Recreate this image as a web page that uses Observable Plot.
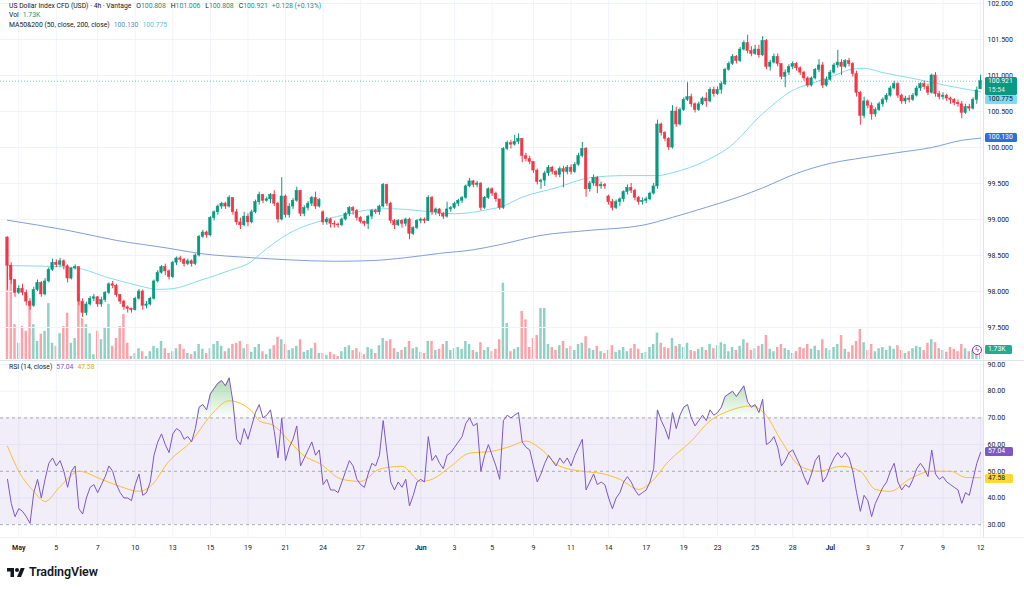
<!DOCTYPE html>
<html>
<head>
<meta charset="utf-8">
<script src="https://cdn.jsdelivr.net/npm/d3@7"></script>
<script src="https://cdn.jsdelivr.net/npm/@observablehq/plot@0.6"></script>
<style>
  html, body { margin: 0; padding: 0; background: #ffffff; }
  #chart { position: relative; width: 1024px; height: 589px; overflow: hidden;
           font-family: Roboto, "Liberation Sans", "DejaVu Sans", sans-serif; color: #131722; background: #fff; }
  .layer { position: absolute; left: 0; }
  .layer svg { display: block; }
  .hdr { position: absolute; left: 9px; font-size: 6.8px; line-height: 9px; white-space: nowrap; color: #131722; }
  .hdr span { margin-left: 4px; }
  .hdr span.k { margin-left: 5px; }
  .tag { position: absolute; font-size: 6.8px; line-height: 9px; color: #fff; border-radius: 1.5px;
         padding-left: 3px; box-sizing: border-box; white-space: nowrap; }
  .sep { position: absolute; background: #e0e3eb; }
  .brand { position: absolute; left: 7px; top: 564px; display: flex; align-items: center; }
  .brand span { font-size: 12.5px; font-weight: 600; margin-left: 4px; color: #131722; letter-spacing: -0.1px; }
</style>
</head>
<body>
<div id="chart">
  <div id="volLayer" class="layer" style="top:0"></div>
  <div id="priceLayer" class="layer" style="top:0"></div>
  <div id="rsiLayer" class="layer" style="top:360px"></div>
</div>
<script>
// ---- US Dollar Index CFD, 4h bars (Vantage) ----
const firstOpen = 98.75;
const closes = [
  98.36, 98.16, 97.98, 98.04, 97.98, 97.86, 97.80, 98.02, 98.12, 97.96,
  98.14, 98.30, 98.40, 98.37, 98.42, 98.35, 98.18, 98.32, 98.34, 97.86,
  97.70, 97.82, 97.90, 97.92, 97.82, 97.88, 97.98, 98.10, 98.08, 97.95,
  97.86, 97.78, 97.76, 97.74, 97.90, 98.00, 97.80, 97.82, 97.90, 98.14,
  98.26, 98.34, 98.28, 98.20, 98.40, 98.46, 98.44, 98.38, 98.42, 98.38,
  98.50, 98.76, 98.82, 98.78, 99.02, 99.10, 99.18, 99.22, 99.18, 99.30,
  99.10, 98.96, 98.92, 99.04, 98.96, 99.10, 99.24, 99.34, 99.26, 99.28,
  99.34, 99.22, 99.00, 99.32, 99.06, 99.18, 99.26, 99.40, 99.08, 99.16,
  99.22, 99.30, 99.18, 99.27, 98.96, 99.00, 98.94, 98.93, 98.92, 99.00,
  99.08, 99.16, 99.12, 99.02, 98.97, 98.94, 99.04, 99.12, 99.10, 99.18,
  99.48, 99.22, 98.98, 98.92, 98.98, 98.94, 99.00, 98.80, 98.88, 98.98,
  99.00, 98.98, 99.30, 99.10, 99.14, 99.08, 99.04, 99.14, 99.16, 99.22,
  99.26, 99.30, 99.46, 99.53, 99.48, 99.50, 99.16, 99.30, 99.42, 99.36,
  99.28, 99.16, 99.98, 100.06, 100.04, 100.08, 100.12, 99.88, 99.84, 99.80,
  99.68, 99.52, 99.54, 99.64, 99.72, 99.66, 99.62, 99.70, 99.66, 99.72,
  99.66, 99.76, 99.88, 99.98, 99.42, 99.50, 99.58, 99.46, 99.48, 99.46,
  99.24, 99.16, 99.24, 99.28, 99.38, 99.44, 99.40, 99.30, 99.24, 99.26,
  99.28, 99.36, 99.46, 100.32, 100.20, 100.12, 100.00, 100.50, 100.32, 100.52,
  100.66, 100.70, 100.60, 100.52, 100.60, 100.68, 100.64, 100.80, 100.74, 100.80,
  100.88, 101.08, 101.16, 101.26, 101.20, 101.36, 101.45, 101.34, 101.30, 101.36,
  101.28, 101.48, 101.12, 101.18, 101.26, 101.16, 100.98, 101.04, 101.12, 101.16,
  101.10, 101.04, 100.96, 100.86, 100.96, 101.08, 101.14, 100.86, 100.94, 101.04,
  101.14, 101.18, 101.12, 101.20, 101.16, 101.02, 100.76, 100.44, 100.64, 100.58,
  100.46, 100.52, 100.60, 100.66, 100.72, 100.82, 100.88, 100.72, 100.64, 100.68,
  100.66, 100.72, 100.82, 100.88, 100.84, 100.76, 101.00, 100.74, 100.70, 100.72,
  100.68, 100.66, 100.62, 100.60, 100.48, 100.56, 100.54, 100.66, 100.793, 100.921
];
const highs = [
  98.76, 98.40, 98.16, 98.08, 98.10, 98.02, 97.90, 98.06, 98.16, 98.14,
  98.18, 98.33, 98.45, 98.44, 98.46, 98.44, 98.37, 98.33, 98.37, 98.34,
  97.90, 97.85, 97.93, 97.96, 97.93, 97.92, 98.00, 98.12, 98.14, 98.10,
  97.96, 97.88, 97.80, 97.77, 97.92, 98.03, 98.02, 97.86, 97.92, 98.16,
  98.29, 98.36, 98.38, 98.30, 98.42, 98.48, 98.49, 98.46, 98.45, 98.44,
  98.52, 98.78, 98.85, 98.84, 99.04, 99.12, 99.20, 99.24, 99.24, 99.33,
  99.30, 99.14, 99.02, 99.10, 99.08, 99.13, 99.27, 99.38, 99.35, 99.31,
  99.36, 99.40, 99.24, 99.58, 99.34, 99.22, 99.29, 99.45, 99.40, 99.19,
  99.25, 99.32, 99.38, 99.29, 99.12, 99.03, 99.02, 98.98, 98.95, 99.02,
  99.10, 99.18, 99.18, 99.14, 99.04, 98.98, 99.06, 99.14, 99.14, 99.20,
  99.50, 99.49, 99.24, 99.00, 99.00, 99.00, 99.02, 99.02, 98.90, 99.00,
  99.02, 99.02, 99.33, 99.32, 99.16, 99.15, 99.10, 99.24, 99.18, 99.24,
  99.28, 99.32, 99.48, 99.57, 99.54, 99.53, 99.51, 99.32, 99.44, 99.44,
  99.38, 99.28, 100.00, 100.09, 100.10, 100.17, 100.19, 100.12, 99.92, 99.88,
  99.80, 99.70, 99.56, 99.67, 99.75, 99.74, 99.68, 99.73, 99.74, 99.75,
  99.76, 99.79, 99.92, 100.07, 100.00, 99.53, 99.62, 99.60, 99.52, 99.50,
  99.34, 99.28, 99.27, 99.30, 99.40, 99.48, 99.50, 99.42, 99.32, 99.30,
  99.31, 99.38, 99.50, 100.38, 100.34, 100.22, 100.14, 100.58, 100.56, 100.55,
  100.69, 100.90, 100.74, 100.62, 100.63, 100.70, 100.76, 100.83, 100.84, 100.84,
  100.91, 101.10, 101.19, 101.29, 101.28, 101.39, 101.48, 101.56, 101.40, 101.42,
  101.42, 101.54, 101.50, 101.21, 101.30, 101.30, 101.16, 101.08, 101.15, 101.19,
  101.18, 101.12, 101.06, 100.98, 100.98, 101.10, 101.22, 101.18, 100.98, 101.07,
  101.17, 101.35, 101.22, 101.22, 101.24, 101.18, 101.06, 100.78, 100.70, 100.66,
  100.62, 100.55, 100.63, 100.69, 100.75, 100.85, 100.92, 100.90, 100.74, 100.71,
  100.72, 100.75, 100.85, 100.90, 100.92, 100.88, 101.02, 101.04, 100.78, 100.76,
  100.74, 100.70, 100.68, 100.66, 100.64, 100.60, 100.60, 100.69, 100.84, 101.006
];
const lows = [
  98.02, 98.10, 97.92, 97.96, 97.94, 97.80, 97.74, 97.78, 98.00, 97.92,
  97.94, 98.12, 98.28, 98.33, 98.34, 98.30, 98.12, 98.16, 98.30, 97.80,
  97.64, 97.66, 97.80, 97.86, 97.78, 97.78, 97.85, 97.96, 98.04, 97.92,
  97.82, 97.74, 97.70, 97.70, 97.73, 97.88, 97.74, 97.76, 97.80, 97.88,
  98.12, 98.24, 98.22, 98.16, 98.18, 98.36, 98.40, 98.34, 98.36, 98.34,
  98.36, 98.48, 98.74, 98.74, 98.76, 98.98, 99.06, 99.14, 99.14, 99.16,
  99.06, 98.92, 98.86, 98.90, 98.90, 98.94, 99.08, 99.20, 99.22, 99.24,
  99.22, 99.18, 98.95, 98.98, 99.02, 99.02, 99.14, 99.24, 99.04, 99.04,
  99.12, 99.18, 99.14, 99.16, 98.92, 98.92, 98.88, 98.88, 98.88, 98.90,
  98.98, 99.04, 99.06, 98.98, 98.94, 98.90, 98.86, 99.00, 99.07, 99.06,
  99.16, 99.18, 98.94, 98.86, 98.90, 98.88, 98.90, 98.72, 98.78, 98.86,
  98.94, 98.94, 98.97, 99.06, 99.06, 99.04, 99.00, 99.02, 99.10, 99.14,
  99.18, 99.22, 99.28, 99.44, 99.44, 99.44, 99.12, 99.14, 99.28, 99.32,
  99.24, 99.13, 99.14, 99.96, 99.98, 100.02, 100.04, 99.79, 99.80, 99.76,
  99.64, 99.48, 99.42, 99.46, 99.60, 99.62, 99.58, 99.58, 99.44, 99.62,
  99.62, 99.64, 99.74, 99.86, 99.31, 99.38, 99.46, 99.36, 99.42, 99.42,
  99.20, 99.12, 99.14, 99.18, 99.24, 99.34, 99.36, 99.26, 99.20, 99.20,
  99.22, 99.26, 99.34, 99.42, 100.16, 100.08, 99.96, 99.98, 100.28, 100.30,
  100.50, 100.64, 100.56, 100.48, 100.50, 100.58, 100.56, 100.62, 100.70, 100.72,
  100.74, 100.86, 101.06, 101.14, 101.16, 101.18, 101.34, 101.30, 101.26, 101.28,
  101.24, 101.26, 101.08, 101.06, 101.16, 101.12, 100.94, 100.83, 101.00, 101.08,
  101.06, 101.00, 100.92, 100.83, 100.84, 100.94, 101.04, 100.82, 100.84, 100.92,
  101.02, 101.10, 101.00, 101.10, 101.12, 100.98, 100.70, 100.31, 100.40, 100.54,
  100.38, 100.42, 100.50, 100.56, 100.62, 100.70, 100.80, 100.68, 100.60, 100.60,
  100.62, 100.64, 100.70, 100.78, 100.80, 100.72, 100.74, 100.70, 100.66, 100.66,
  100.64, 100.60, 100.58, 100.56, 100.40, 100.46, 100.50, 100.52, 100.60, 100.808
];
// bars that opened away from the previous close
const gapBars = [84, 160, 259];
const gapOpenValues = [99.10, 99.32, 100.808];

// volume, thousands
const volumes = [
  15.8, 15.5, 5.8, 2.7, 5.5, 4.7, 9.2, 5.8, 3.0, 4.2,
  4.7, 9.3, 2.7, 2.2, 4.3, 5.5, 7.7, 2.7, 3.5, 10.8,
  6.8, 5.8, 4.3, 0.8, 4.7, 3.3, 5.2, 9.2, 2.2, 3.5,
  5.5, 7.5, 2.7, 0.5, 1.0, 1.8, 1.3, 0.5, 1.3, 2.2,
  1.8, 3.0, 1.8, 1.0, 1.3, 1.8, 2.5, 1.7, 1.0, 0.8,
  1.3, 2.5, 1.7, 1.0, 1.8, 2.5, 3.0, 2.2, 1.3, 1.8,
  2.5, 2.7, 3.0, 1.8, 2.5, 1.2, 2.0, 2.5, 1.3, 0.8,
  1.7, 2.3, 3.7, 3.3, 2.5, 1.5, 1.8, 2.2, 3.3, 1.2,
  1.5, 1.8, 2.7, 1.0, 1.0, 0.7, 1.2, 0.8, 0.5, 1.3,
  2.0, 2.3, 1.5, 1.8, 1.2, 0.8, 2.0, 1.7, 1.0, 2.3,
  3.5, 3.0, 3.3, 1.8, 1.2, 1.5, 2.0, 3.0, 1.8, 2.0,
  1.2, 1.0, 3.0, 3.0, 1.5, 1.7, 2.5, 3.0, 1.5, 1.8,
  2.0, 1.7, 3.0, 2.5, 1.5, 1.2, 2.8, 1.5, 2.0, 1.3,
  1.7, 3.3, 12.7, 6.0, 1.3, 1.7, 2.0, 8.0, 6.6, 2.0,
  3.5, 4.0, 8.5, 8.5, 2.5, 2.0, 1.5, 2.3, 3.0, 1.8,
  2.2, 1.5, 2.5, 2.7, 3.8, 1.8, 1.5, 2.2, 1.3, 1.0,
  1.5, 2.3, 1.2, 1.5, 2.0, 1.3, 1.8, 2.5, 1.7, 1.0,
  1.2, 2.0, 2.5, 4.4, 2.7, 2.0, 1.8, 3.5, 2.2, 2.5,
  2.0, 2.7, 1.5, 1.3, 1.7, 2.0, 1.5, 2.5, 1.8, 2.3,
  2.8, 2.5, 1.3, 2.0, 1.5, 2.2, 3.3, 2.7, 1.5, 1.8,
  2.2, 2.5, 4.0, 1.7, 1.3, 2.0, 2.5, 1.8, 1.5, 1.0,
  1.3, 2.0, 1.8, 2.5, 1.7, 2.2, 1.5, 3.3, 1.8, 1.5,
  2.0, 2.5, 4.0, 1.7, 1.2, 2.3, 3.0, 5.0, 2.8, 1.5,
  2.5, 1.3, 1.8, 2.0, 1.5, 2.2, 1.7, 2.3, 1.5, 1.0,
  1.3, 1.8, 2.2, 2.0, 1.5, 2.7, 3.3, 2.8, 1.8, 1.5,
  1.2, 2.0, 1.7, 1.3, 2.5, 1.8, 1.3, 1.5, 2.0, 1.73
];

// RSI (14, close) per bar
const rsi = [
  47, 38, 33, 36, 35, 33, 30.5, 42, 47, 40,
  47, 53, 55, 52, 54, 50, 44, 50, 52, 36,
  34, 40, 44, 45, 42, 45, 48, 52, 50, 45,
  42, 40, 40, 39, 45, 49, 41, 42, 46, 56,
  61, 64, 60, 57, 64, 66, 65, 62, 63, 61,
  66, 74, 75, 73, 79, 81, 83, 84, 82, 85,
  76, 62, 60, 66, 62, 67, 72, 75, 70, 71,
  73, 65, 55, 70, 54, 59, 62, 67, 52, 55,
  58, 61, 56, 58, 45, 47, 43, 43, 42, 46,
  50, 54, 52, 47, 45, 44, 49, 53, 52, 56,
  69, 57, 46, 43, 46, 44, 47, 37, 41, 46,
  47, 46, 63, 54, 56, 53, 51, 56, 57, 59,
  61, 63, 68, 70, 67, 68, 50, 56, 60, 56,
  52, 47, 69, 71, 70, 71, 72, 61, 59, 58,
  52, 46, 49, 53, 56, 54, 52, 55, 53, 55,
  52, 56, 59, 62, 43, 46, 49, 45, 46, 45,
  40, 36, 40, 42, 46, 48, 46, 43, 41, 42,
  43, 46, 51, 73, 69, 66, 62, 72, 66, 71,
  74, 75, 70, 67, 69, 71, 69, 73, 71, 72,
  74, 78, 79, 80, 78, 80, 82, 76, 74, 75,
  72, 77, 60, 61, 63, 59, 52, 54, 57, 58,
  55, 52, 48, 45, 49, 54, 56, 46, 48, 52,
  55, 57, 55, 57, 55, 50, 42, 35, 41, 39,
  33, 38, 41, 44, 46, 50, 53, 46, 43, 45,
  44, 47, 51, 53, 51, 48, 58, 49, 47, 48,
  46, 45, 44, 43, 38, 42, 41, 47, 53, 57.04
];
// RSI-based moving average, sampled along the bars
const rsiMaBars = [0, 3, 7, 10, 14, 19, 25, 30, 35, 38, 43, 49, 54, 59, 65, 67, 71, 75, 79, 83,
  89, 94, 99, 105, 110, 113, 118, 123, 129, 134, 138, 142, 147, 153, 158, 163, 168, 171, 176, 182,
  187, 192, 198, 202, 206, 211, 216, 222, 227, 231, 235, 240, 246, 251, 255, 259];
const rsiMaValues = [59.4, 50, 42.5, 38.7, 44.3, 50, 47, 44.3, 42.5, 44.3, 53.8, 61.3, 70.8, 76.4, 72.6, 68.9, 67, 61.3, 55.7, 53,
  47, 46.2, 50.8, 51.9, 46.2, 47, 51.9, 56.8, 57.5, 59.4, 61.3, 58.3, 51.9, 50, 49.2, 47, 43.2, 45.5, 53.8, 61.3,
  68.9, 72.6, 74.5, 70.8, 61.3, 51.9, 50, 51.9, 50, 43.2, 42.5, 47, 50, 50, 47.7, 47.58];

// MA50 / MA200 on close, sampled along the bars
const ma50Bars = [0, 11, 18, 27, 35, 40, 44, 51, 59, 65, 67, 75, 84, 91, 97, 102, 106, 112, 119, 124,
  129, 131, 137, 146, 155, 164, 173, 177, 186, 192, 201, 210, 214, 222, 224, 228, 233, 241, 250, 259];
const ma50Values = [98.36, 98.35, 98.33, 98.19, 98.08, 98.03, 98.04, 98.15, 98.29, 98.42, 98.51, 98.81, 98.99, 99.08, 99.14, 99.15, 99.14, 99.11, 99.08, 99.10,
  99.15, 99.17, 99.31, 99.44, 99.58, 99.61, 99.61, 99.65, 99.82, 100.0, 100.47, 100.82, 100.89, 101.04, 101.08, 101.10, 101.04, 100.96, 100.86, 100.775];
const ma200Bars = [0, 16, 29, 43, 51, 65, 75, 87, 97, 106, 115, 124, 131, 142, 155, 169, 177, 186, 195, 201, 210, 219, 228, 237, 246, 254, 259];
const ma200Values = [98.99, 98.85, 98.71, 98.60, 98.53, 98.47, 98.44, 98.42, 98.43, 98.47, 98.53, 98.58, 98.65, 98.78, 98.85, 98.92, 99.03, 99.17, 99.32, 99.44, 99.64, 99.78, 99.86, 99.93, 100.0, 100.10, 100.13];

// time axis
const dateTickBars = [3, 13, 24, 34, 44, 54, 64, 74, 84, 94, 110, 119, 129, 140, 150, 160, 170, 180, 189, 199, 209, 219, 229, 238, 249, 259];
const dateTickLabels = ["May", "5", "7", "10", "13", "15", "19", "21", "24", "27", "Jun", "3", "5", "9", "11", "14", "17", "19", "23", "25", "28", "Jul", "3", "7", "9", "12"];
const monthLabels = ["May", "Jun", "Jul"];
const priceTicks = [97.5, 98, 98.5, 99, 99.5, 100, 100.5, 101, 101.5, 102];
const rsiTicks = [30, 40, 50, 60, 70, 80, 90];
const rsiGridTicks = [40, 60, 80, 90];
const rsiLevels = [70, 50, 30];
const countdown = "15:54";

// ---- styling ----
const UP = "#089981", DOWN = "#f23645";
const VOL_UP = "rgba(8,153,129,0.45)", VOL_DOWN = "rgba(242,54,69,0.45)";
const GRID = "#f0f3fa";
const MA50_COLOR = "#86dcee", MA200_COLOR = "#7f9fd8";
const RSI_COLOR = "#7e57c2", RSI_MA_COLOR = "#fbc02d";
const FONT = 'Roboto, "Liberation Sans", "DejaVu Sans", sans-serif';

const N = closes.length;
const gapOpen = new Map(gapBars.map((b, k) => [b, gapOpenValues[k]]));
const bars = closes.map((c, i) => {
  const open = i === 0 ? firstOpen : (gapOpen.has(i) ? gapOpen.get(i) : closes[i - 1]);
  const up = c >= open;
  return {
    i, open, close: c,
    high: Math.max(highs[i], open, c),
    low: Math.min(lows[i], open, c),
    vol: volumes[i], up,
    color: up ? UP : DOWN,
    volColor: up ? VOL_UP : VOL_DOWN
  };
});
const rsiRows = rsi.map((r, i) => ({i, r}));
const rsiMa = rsiMaBars.map((b, k) => ({i: b, v: rsiMaValues[k]}));
const ma50 = ma50Bars.map((b, k) => ({i: b, v: ma50Values[k]}));
const ma200 = ma200Bars.map((b, k) => ({i: b, v: ma200Values[k]}));
const last = bars[N - 1];

const W = 1024, MR = 41;
const xDomain = [-1.86, N - 0.22];
const HALF = 0.33;
const labelOf = new Map(dateTickBars.map((b, k) => [b, dateTickLabels[k]]));
const monthTicks = dateTickBars.filter(b => monthLabels.includes(labelOf.get(b)));
const dayTicks = dateTickBars.filter(b => !monthLabels.includes(labelOf.get(b)));

// volume pane (drawn underneath the candles)
const volPlot = Plot.plot({
  width: W, height: 360, marginLeft: 0, marginRight: MR, marginTop: 0, marginBottom: 1,
  style: {background: "transparent", fontFamily: FONT},
  x: {type: "linear", domain: xDomain, axis: null},
  y: {domain: [0, 59.8], axis: null},
  color: {type: "identity"},
  marks: [
    Plot.rect(bars, {x1: d => d.i - HALF, x2: d => d.i + HALF, y1: 0, y2: "vol", fill: "volColor"})
  ]
});
document.getElementById("volLayer").appendChild(volPlot);

// price pane
const pricePlot = Plot.plot({
  width: W, height: 360, marginLeft: 0, marginRight: MR, marginTop: 0, marginBottom: 0,
  style: {background: "transparent", fontFamily: FONT, fontSize: "7px", color: "#131722", overflow: "visible"},
  x: {type: "linear", domain: xDomain, axis: null},
  y: {domain: [97.042, 102.042]},
  color: {type: "identity"},
  marks: [
    Plot.ruleY(priceTicks, {stroke: GRID}),
    Plot.ruleX(dateTickBars, {stroke: GRID}),
    Plot.axisY(priceTicks, {anchor: "right", tickSize: 0, tickPadding: 4, tickFormat: d3.format(".3f"), fill: "#131722", label: null}),
    Plot.line(ma200, {x: "i", y: "v", stroke: MA200_COLOR, strokeWidth: 1, curve: "monotone-x"}),
    Plot.line(ma50, {x: "i", y: "v", stroke: MA50_COLOR, strokeWidth: 1, curve: "monotone-x"}),
    Plot.ruleY([last.close], {stroke: UP, strokeOpacity: 0.55, strokeDasharray: "1,2"}),
    Plot.ruleX(bars, {x: "i", y1: "low", y2: "high", stroke: "color", strokeWidth: 1}),
    Plot.rect(bars, {x1: d => d.i - HALF, x2: d => d.i + HALF, y1: "open", y2: "close", fill: "color", stroke: "color", strokeWidth: 0.5})
  ]
});
document.getElementById("priceLayer").appendChild(pricePlot);

// RSI pane
const rsiPlot = Plot.plot({
  width: W, height: 200, marginLeft: 0, marginRight: MR, marginTop: 0, marginBottom: 23,
  style: {background: "transparent", fontFamily: FONT, fontSize: "7px", color: "#131722", overflow: "visible"},
  x: {type: "linear", domain: xDomain},
  y: {domain: [25.2, 91.5]},
  marks: [
    Plot.ruleX(dateTickBars, {stroke: GRID}),
    Plot.ruleY(rsiGridTicks, {stroke: GRID}),
    Plot.rect([{lo: 30, hi: 70}], {x1: xDomain[0], x2: xDomain[1], y1: "lo", y2: "hi", fill: RSI_COLOR, fillOpacity: 0.1}),
    Plot.ruleY(rsiLevels, {stroke: "#9598a1", strokeOpacity: 0.8, strokeDasharray: "3,3"}),
    Plot.areaY(rsiRows, {x: "i", y1: 70, y2: d => Math.max(d.r, 70), fill: "url(#rsiOB)"}),
    Plot.areaY(rsiRows, {x: "i", y1: 30, y2: d => Math.min(d.r, 30), fill: "url(#rsiOS)"}),
    Plot.line(rsiMa, {x: "i", y: "v", stroke: RSI_MA_COLOR, strokeWidth: 1, curve: "monotone-x"}),
    Plot.line(rsiRows, {x: "i", y: "r", stroke: RSI_COLOR, strokeWidth: 1}),
    Plot.axisY(rsiTicks, {anchor: "right", tickSize: 0, tickPadding: 4, tickFormat: d3.format(".2f"), fill: "#131722", label: null}),
    Plot.axisX(dayTicks, {anchor: "bottom", tickSize: 0, tickPadding: 8, tickFormat: d => labelOf.get(d), fill: "#131722", label: null}),
    Plot.axisX(monthTicks, {anchor: "bottom", tickSize: 0, tickPadding: 8, tickFormat: d => labelOf.get(d), fill: "#131722", fontWeight: 600, label: null})
  ]
});
{
  const yR = rsiPlot.scale("y");
  const ns = "http://www.w3.org/2000/svg";
  const defs = document.createElementNS(ns, "defs");
  defs.innerHTML =
    `<linearGradient id="rsiOB" gradientUnits="userSpaceOnUse" x1="0" x2="0" y1="${yR.apply(88)}" y2="${yR.apply(70)}">` +
    `<stop offset="0" stop-color="#4caf50" stop-opacity="0.55"/><stop offset="1" stop-color="#4caf50" stop-opacity="0.02"/></linearGradient>` +
    `<linearGradient id="rsiOS" gradientUnits="userSpaceOnUse" x1="0" x2="0" y1="${yR.apply(30)}" y2="${yR.apply(12)}">` +
    `<stop offset="0" stop-color="#f23645" stop-opacity="0.02"/><stop offset="1" stop-color="#f23645" stop-opacity="0.55"/></linearGradient>`;
  rsiPlot.insertBefore(defs, rsiPlot.firstChild);
}
document.getElementById("rsiLayer").appendChild(rsiPlot);

// ---- panes, header texts and value tags ----
const chart = document.getElementById("chart");
function el(cls, style, html) {
  const d = document.createElement("div");
  d.className = cls;
  Object.assign(d.style, style);
  if (html != null) d.innerHTML = html;
  chart.appendChild(d);
  return d;
}
el("sep", {left: "0px", top: "360px", width: W + "px", height: "1px"});
el("sep", {left: (W - MR) + "px", top: "0px", width: "1px", height: "537px"});
el("sep", {left: "0px", top: "537px", width: W + "px", height: "1px", background: "#eef0f4"});

const fmt3 = d3.format(".3f"), fmt2 = d3.format(".2f");
const prevClose = closes[N - 2];
const change = last.close - prevClose;
const pct = change / prevClose * 100;
const g = s => `<span style="color:${UP};margin-left:0">${s}</span>`;
el("hdr", {top: "2px"},
  `US Dollar Index CFD (USD) · 4h · Vantage` +
  `<span class="k">O</span>${g(fmt3(last.open))}` +
  `<span class="k">H</span>${g(fmt3(last.high))}` +
  `<span class="k">L</span>${g(fmt3(last.low))}` +
  `<span class="k">C</span>${g(fmt3(last.close))}` +
  `<span style="color:${UP}">${change >= 0 ? "+" : ""}${fmt3(change)} (${change >= 0 ? "+" : ""}${fmt2(pct)}%)</span>`);
el("hdr", {top: "11px"}, `Vol<span style="color:${UP}">${fmt2(last.vol)}K</span>`);
el("hdr", {top: "21px"},
  `MA50&amp;200 (50, close, 200, close)<span style="color:#5b86d8">${fmt3(ma200Values[ma200Values.length - 1])}</span>` +
  `<span style="color:#4fc8e0">${fmt3(ma50Values[ma50Values.length - 1])}</span>`);
el("hdr", {top: "363px"},
  `RSI (14, close)<span style="color:${RSI_COLOR}">${fmt2(rsi[N - 1])}</span>` +
  `<span style="color:#e6a800">${fmt2(rsiMaValues[rsiMaValues.length - 1])}</span>`);

const yP = pricePlot.scale("y"), yRs = rsiPlot.scale("y");
const TAG_LEFT = W - MR + 2, TAG_W = 32;
// last-price tag: price on top, bar countdown underneath
const priceTop = yP.apply(last.close) - 4;
el("tag", {left: TAG_LEFT + "px", width: TAG_W + "px", top: priceTop + "px", height: "18px", background: UP},
  `<div>${fmt3(last.close)}</div><div style="opacity:0.85">${countdown}</div>`);
const ma50Last = ma50Values[ma50Values.length - 1];
el("tag", {left: TAG_LEFT + "px", width: TAG_W + "px", top: Math.max(yP.apply(ma50Last) - 4.5, priceTop + 18) + "px", height: "9px", background: "#7fdbef", color: "#131722"},
  fmt3(ma50Last));
const ma200Last = ma200Values[ma200Values.length - 1];
el("tag", {left: TAG_LEFT + "px", width: TAG_W + "px", top: (yP.apply(ma200Last) - 4.5) + "px", height: "9px", background: "#2f6fdc"},
  fmt3(ma200Last));
el("tag", {left: TAG_LEFT + "px", width: "27px", top: "345px", height: "9px", background: "#22ab94"},
  `${fmt2(last.vol)}K`);
el("tag", {left: (TAG_LEFT - 13) + "px", width: "10px", top: "344.5px", height: "10px", background: "#fff", border: "1px solid #9c27b0", borderRadius: "50%", padding: "0", color: "#9c27b0", fontSize: "7px", lineHeight: "8px", textAlign: "center"},
  "ϟ");
el("tag", {left: TAG_LEFT + "px", width: "28px", top: (360 + yRs.apply(rsi[N - 1]) - 4.5) + "px", height: "9px", background: RSI_COLOR},
  fmt2(rsi[N - 1]));
const rsiMaLast = rsiMaValues[rsiMaValues.length - 1];
el("tag", {left: TAG_LEFT + "px", width: "28px", top: (360 + yRs.apply(rsiMaLast) - 3) + "px", height: "9px", background: "#fdd835", color: "#131722"},
  fmt2(rsiMaLast));

// brand mark
el("brand", {},
  `<svg width="18" height="12" viewBox="0 0 36 24"><path d="M14 22H7V11H0V4h14v18z" fill="#131722"/><circle cx="20" cy="8" r="4" fill="#131722"/><path d="M28 22h-8l7.5-18h8z" fill="#131722"/></svg><span>TradingView</span>`);
</script>
</body>
</html>
